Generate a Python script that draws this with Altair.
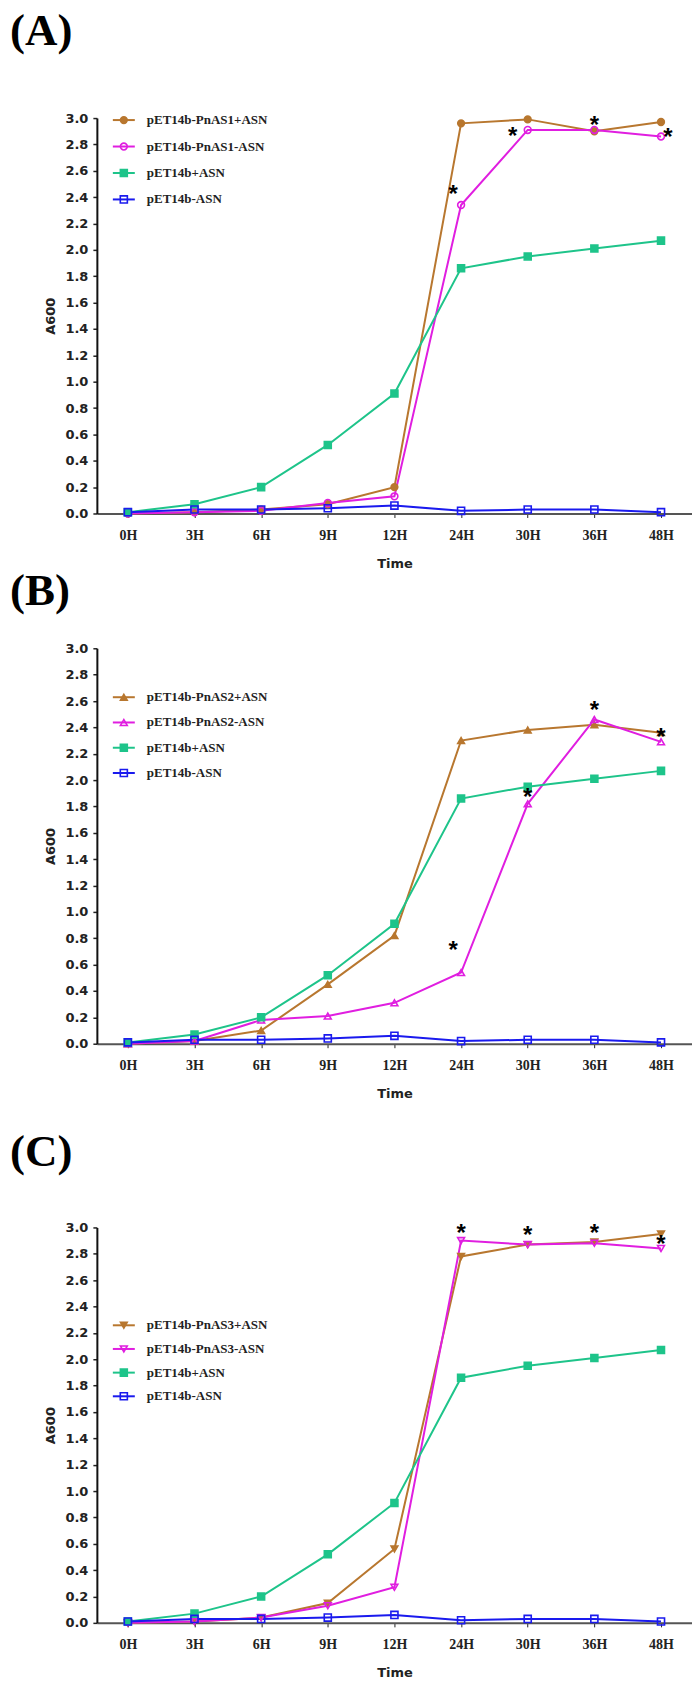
import altair as alt
import pandas as pd

# ---------------- data ----------------
times = ["0H", "3H", "6H", "9H", "12H", "24H", "30H", "36H", "48H"]

ctrl_plus = [0.01, 0.07, 0.20, 0.52, 0.91, 1.86, 1.95, 2.01, 2.07]
ctrl_minus = [0.01, 0.03, 0.03, 0.04, 0.06, 0.02, 0.03, 0.03, 0.01]

a_plus = [0.00, 0.01, 0.03, 0.07, 0.20, 2.96, 2.99, 2.90, 2.97]
a_minus = [0.00, 0.01, 0.02, 0.08, 0.13, 2.34, 2.91, 2.91, 2.86]
b_plus = [0.00, 0.02, 0.10, 0.45, 0.82, 2.30, 2.38, 2.42, 2.36]
b_minus = [0.00, 0.02, 0.18, 0.21, 0.31, 0.54, 1.82, 2.46, 2.29]
c_plus = [0.00, 0.01, 0.04, 0.15, 0.56, 2.78, 2.87, 2.89, 2.95]
c_minus = [0.00, 0.01, 0.04, 0.13, 0.27, 2.90, 2.87, 2.88, 2.84]

labels_a = ["pET14b-PnAS1+ASN", "pET14b-PnAS1-ASN", "pET14b+ASN", "pET14b-ASN"]
labels_b = ["pET14b-PnAS2+ASN", "pET14b-PnAS2-ASN", "pET14b+ASN", "pET14b-ASN"]
labels_c = ["pET14b-PnAS3+ASN", "pET14b-PnAS3-ASN", "pET14b+ASN", "pET14b-ASN"]

panel_titles = ["(A)", "(B)", "(C)"]

stars_a_time = ["24H", "30H", "36H", "48H"]
stars_a_value = [2.47, 2.91, 2.99, 2.90]
stars_a_side = ["left", "farleft", "center", "right"]

stars_b_time = ["24H", "30H", "36H", "48H"]
stars_b_value = [0.76, 1.92, 2.58, 2.37]
stars_b_side = ["left", "center", "center", "center"]

stars_c_time = ["24H", "30H", "36H", "48H"]
stars_c_value = [3.00, 2.99, 3.00, 2.92]
stars_c_side = ["center", "center", "center", "center"]

# ---------------- style ----------------
keys = ["plus", "minus", "ctrl_plus", "ctrl_minus"]
stroke_colors = ["#B8772F", "#E01EE0", "#1EC48A", "#1A1AEE"]
fill_colors = ["#B8772F", "transparent", "#1EC48A", "transparent"]
sizes = [45, 50, 60, 60]
nudge = {"farleft": -15, "left": -8, "center": 0, "right": 7}

W, H = 596, 396
PX_PER_UNIT = H / 3.0
y_ticks = [round(i * 0.2, 1) for i in range(16)]

serif = "Liberation Serif"
sans = "DejaVu Sans"

X_AXIS = alt.Axis(
    title="Time", labelAngle=0, labelFont=serif, labelFontWeight="bold",
    labelFontSize=14, labelColor="#222", tickSize=4, tickColor="#222",
    labelPadding=11, titleFont=sans, titleFontWeight="bold",
    titleFontSize=13, titlePadding=15, titleColor="#222",
    domainColor="#555", domainWidth=2, grid=False)
Y_AXIS = alt.Axis(
    title="A600", values=y_ticks, format=".1f", labelFont=sans,
    labelFontWeight="bold", labelFontSize=13, labelColor="#222",
    labelOverlap=False, labelFlush=False,
    tickSize=4, tickColor="#222", tickWidth=1.5, labelPadding=5,
    titleFont=sans, titleFontWeight="bold", titleFontSize=13,
    titleColor="#222", titlePadding=7, domainColor="#111",
    domainWidth=2, grid=False)
X_SCALE = alt.Scale(type="point", padding=0.465, domain=times)
Y_SCALE = alt.Scale(domain=[0, 3], nice=False)


def xe(field="time"):
    return alt.X(f"{field}:N", sort=times, scale=X_SCALE, axis=X_AXIS)


def ye(field):
    return alt.Y(f"{field}:Q", scale=Y_SCALE, axis=Y_AXIS)


def panel(title, labels, plus, minus, shapes, s_time, s_val, s_side,
          title_offset, leg_top, leg_step):
    series = [plus, minus, ctrl_plus, ctrl_minus]
    rows = []
    for k, lab, vals in zip(keys, labels, series):
        for t, v in zip(times, vals):
            rows.append({"time": t, "value": v, "key": k, "label": lab})
    df = pd.DataFrame(rows)

    color = alt.Color("key:N", scale=alt.Scale(domain=keys, range=stroke_colors), legend=None)
    stroke = alt.Stroke("key:N", scale=alt.Scale(domain=keys, range=stroke_colors), legend=None)
    fill = alt.Fill("key:N", scale=alt.Scale(domain=keys, range=fill_colors), legend=None)
    shape = alt.Shape("key:N", scale=alt.Scale(domain=keys, range=shapes), legend=None)
    size = alt.Size("key:N", scale=alt.Scale(domain=keys, range=sizes), legend=None)

    base = alt.Chart(df)
    lines = base.mark_line(strokeWidth=2).encode(x=xe(), y=ye("value"), color=color)
    points = base.mark_point(strokeWidth=1.6, opacity=1).encode(
        x=xe(), y=ye("value"), stroke=stroke, fill=fill, shape=shape, size=size)

    sdf = pd.DataFrame({"time": s_time, "value": s_val, "side": s_side})
    star_layers = []
    for side, dx in nudge.items():
        if side not in s_side:
            continue
        star_layers.append(
            alt.Chart(sdf).transform_filter(alt.datum.side == side)
            .mark_text(text="*", font="Liberation Sans", fontWeight="bold",
                       fontSize=24, color="black", baseline="alphabetic",
                       align="center", dx=dx, dy=14)
            .encode(x=xe(), y=ye("value"))
        )

    ldf = pd.DataFrame({"key": keys, "label": labels, "idx": [0, 1, 2, 3]})
    lbase = alt.Chart(ldf).transform_calculate(
        ly=f"3.0 - ({leg_top} + datum.idx * {leg_step}) / {PX_PER_UNIT}")
    leg_rule = lbase.mark_rule(strokeWidth=2).encode(
        x=alt.value(16), x2=alt.value(38), y=ye("ly"), color=color)
    leg_pt = lbase.mark_point(strokeWidth=1.6, opacity=1).encode(
        x=alt.value(27), y=ye("ly"), stroke=stroke, fill=fill,
        shape=shape, size=size)
    leg_txt = lbase.mark_text(align="left", baseline="middle", font=serif,
                              fontWeight="bold", fontSize=13, color="#222").encode(
        x=alt.value(50), y=ye("ly"), text="label:N")

    return alt.layer(lines, points, *star_layers, leg_rule, leg_pt, leg_txt).properties(
        width=W, height=H,
        title=alt.TitleParams(text=title, anchor="start", frame="group",
                              font=serif, fontSize=45, fontWeight="bold",
                              color="black", baseline="alphabetic",
                              dx=-87, offset=title_offset),
    )


def spacer(h):
    return alt.Chart(pd.DataFrame({"v": [0]})).mark_point(opacity=0).encode(
        x=alt.X("v:Q", axis=None), y=alt.Y("v:Q", axis=None)
    ).properties(width=W, height=h)


pa = panel(panel_titles[0], labels_a, a_plus, a_minus,
           ["circle", "circle", "square", "square"],
           stars_a_time, stars_a_value, stars_a_side, 22, 2, 26.5)
pb = panel(panel_titles[1], labels_b, b_plus, b_minus,
           ["triangle-up", "triangle-up", "square", "square"],
           stars_b_time, stars_b_value, stars_b_side, -8, 49, 25.3)
pc = panel(panel_titles[2], labels_c, c_plus, c_minus,
           ["triangle-down", "triangle-down", "square", "square"],
           stars_c_time, stars_c_value, stars_c_side, 11, 98, 23.7)

chart = alt.vconcat(pa, spacer(135), pb, spacer(184), pc, spacing=0, bounds="flush").resolve_scale(
    shape="independent", color="independent", stroke="independent",
    fill="independent", size="independent"
).properties(
    padding={"left": 2, "top": 0, "right": 0, "bottom": 0}
).configure_view(stroke=None).configure_axisY(labelOverlap=False)

chart.save("out.html", embed_options={"renderer": "svg", "actions": False})
